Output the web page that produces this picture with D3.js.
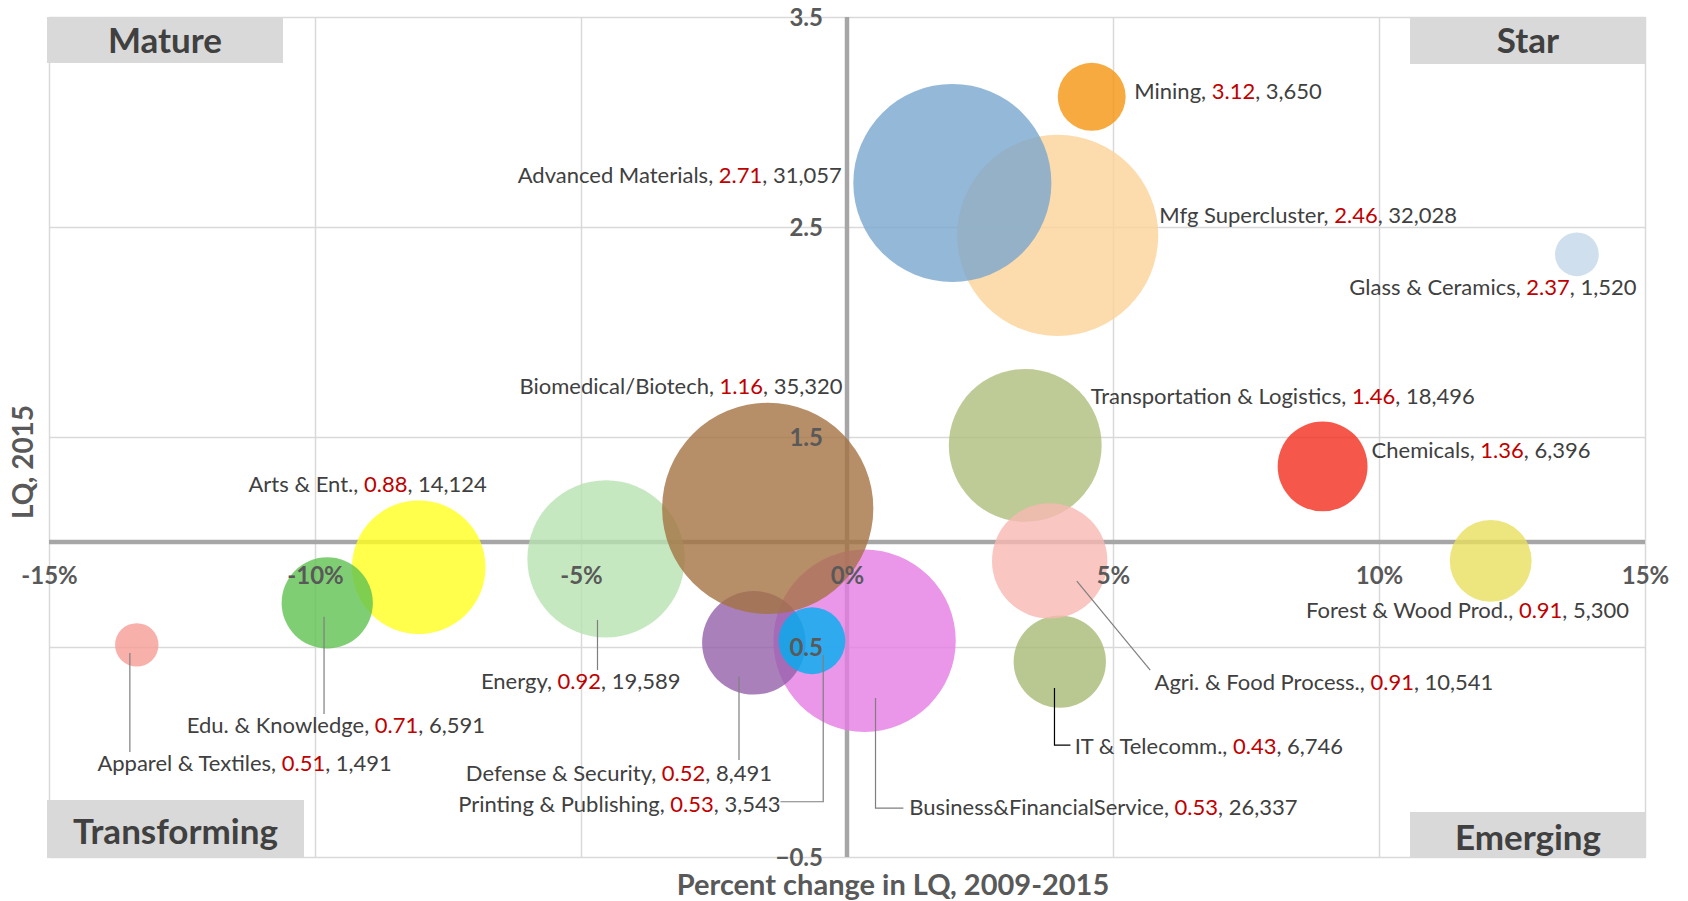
<!DOCTYPE html>
<html>
<head>
<meta charset="utf-8">
<script src="https://cdn.jsdelivr.net/npm/d3@7"></script>
<style>
  body { margin: 0; background: #fff; }
  svg { display: block; font-family: Lato, "Open Sans", sans-serif; }
</style>
</head>
<body>
<svg id="chart"></svg>
<script>
const W = 1688, H = 901;

// data, in drawing order (bottom -> top)
const clusters = ["Mfg Supercluster", "Advanced Materials", "Mining", "Glass & Ceramics",
  "Transportation & Logistics", "IT & Telecomm.", "Agri. & Food Process.", "Chemicals",
  "Forest & Wood Prod.", "Business&FinancialService", "Defense & Security", "Energy",
  "Biomedical/Biotech", "Printing & Publishing", "Arts & Ent.", "Edu. & Knowledge",
  "Apparel & Textiles"];
const pctChange = [3.96, 1.98, 4.6, 13.72, 3.35, 4.0, 3.81, 8.94, 12.1, 0.33, -1.75, -4.53,
  -1.49, -0.66, -8.05, -9.77, -13.35];
const lq2015 = [2.46, 2.71, 3.12, 2.37, 1.46, 0.43, 0.91, 1.36, 0.91, 0.53, 0.52, 0.92,
  1.16, 0.53, 0.88, 0.71, 0.51];
const employment = [32028, 31057, 3650, 1520, 18496, 6746, 10541, 6396, 5300, 26337, 8491,
  19589, 35320, 3543, 14124, 6591, 1491];
const colors = ["#FBD297", "#79A6CE", "#F59510", "#C4D7E9", "#AEBE7C", "#A8BA76", "#F7B8B3",
  "#F32E1D", "#E9DF5D", "#E57CE3", "#9560AA", "#B8E2B0", "#A47242", "#00AFF0", "#FFFF1F",
  "#60C251", "#F69C95"];

const xTicks = [-15, -10, -5, 0, 5, 10, 15];
const yTicks = [-0.5, 0.5, 1.5, 2.5, 3.5];
const quadrants = ["Mature", "Star", "Transforming", "Emerging"];

// label anchor in data units: [pct, LQ, text-anchor]
const labelAt = [
  [5.87, 2.557, "start"], [-0.10, 2.744, "end"], [5.40, 3.144, "start"], [14.84, 2.214, "end"],
  [4.58, 1.692, "start"], [4.28, 0.025, "start"], [5.78, 0.330, "start"], [9.86, 1.438, "start"],
  [14.70, 0.676, "end"], [1.17, -0.263, "start"], [-1.41, -0.10, "end"], [-3.13, 0.338, "end"],
  [-0.085, 1.743, "end"], [-1.25, -0.248, "end"], [-11.25, 1.275, "start"], [-12.41, 0.129, "start"],
  [-14.09, -0.052, "start"]
];
// leader lines in data units
const leaders = [
  { pts: [[-13.48, 0.471], [-13.48, 0.0]], c: "#7f7f7f" },
  { pts: [[-9.83, 0.644], [-9.83, 0.181]], c: "#7f7f7f" },
  { pts: [[-4.69, 0.629], [-4.69, 0.390]], c: "#7f7f7f" },
  { pts: [[-2.03, 0.359], [-2.03, -0.038]], c: "#7f7f7f" },
  { pts: [[-0.447, 0.462], [-0.447, -0.237], [-1.25, -0.237]], c: "#7f7f7f" },
  { pts: [[0.536, 0.257], [0.536, -0.267], [1.06, -0.267]], c: "#7f7f7f" },
  { pts: [[3.90, 0.305], [3.90, 0.033], [4.20, 0.033]], c: "#000000" },
  { pts: [[4.32, 0.814], [5.70, 0.390]], c: "#7f7f7f" }
];

const x = d3.scaleLinear().domain([-15, 15]).range([49, 1645]);
const y = d3.scaleLinear().domain([-0.5, 3.5]).range([857, 17]);
const r = d3.scaleSqrt().domain([0, 35320]).range([0, 105.6]);
const fmt = d3.format(",");

const svg = d3.select("#chart").attr("width", W).attr("height", H);

// gridlines
svg.append("g")
  .attr("transform", `translate(0,${y(-0.5)})`)
  .call(d3.axisBottom(x).tickValues(xTicks).tickSize(-(y(-0.5) - y(3.5))).tickFormat(""))
  .call(g => g.select(".domain").remove())
  .call(g => g.selectAll("line").attr("stroke", "#d9d9d9").attr("stroke-width", 1.5));
svg.append("g")
  .attr("transform", `translate(${x(-15)},0)`)
  .call(d3.axisLeft(y).tickValues(yTicks).tickSize(-(x(15) - x(-15))).tickFormat(""))
  .call(g => g.select(".domain").remove())
  .call(g => g.selectAll("line").attr("stroke", "#d9d9d9").attr("stroke-width", 1.5));

// main axis lines
svg.append("line").attr("x1", x(0)).attr("x2", x(0)).attr("y1", y(3.5)).attr("y2", y(-0.5))
  .attr("stroke", "#a6a6a6").attr("stroke-width", 4.5);
svg.append("line").attr("x1", x(-15)).attr("x2", x(15)).attr("y1", y(1)).attr("y2", y(1))
  .attr("stroke", "#a6a6a6").attr("stroke-width", 4.5);

// quadrant boxes
const qBox = [
  { x: x(-15) - 2, y: y(3.5), w: 236, h: 46 },
  { x: 1410, y: y(3.5), w: 236, h: 47 },
  { x: x(-15) - 2, y: 800, w: 257, h: 58 },
  { x: 1410, y: 812, w: 236, h: 46 }
];
qBox.forEach((b, i) => {
  svg.append("rect").attr("x", b.x).attr("y", b.y).attr("width", b.w).attr("height", b.h)
    .attr("fill", "#d9d9d9");
  svg.append("text").attr("x", b.x + b.w / 2).attr("y", b.y + b.h / 2 + (i >= 2 ? 2 : 0))
    .attr("dy", "0.36em").attr("text-anchor", "middle")
    .attr("font-size", 35).attr("font-weight", "bold").attr("fill", "#404040")
    .text(quadrants[i]);
});

// bubbles
svg.append("g").selectAll("circle")
  .data(clusters)
  .join("circle")
  .attr("cx", (d, i) => x(pctChange[i]))
  .attr("cy", (d, i) => y(lq2015[i]))
  .attr("r", (d, i) => r(employment[i]))
  .attr("fill", (d, i) => colors[i])
  .attr("fill-opacity", 0.8);

// tick labels
svg.append("g")
  .attr("transform", `translate(0,${y(1)})`)
  .call(d3.axisBottom(x).tickValues(xTicks).tickSize(0).tickFormat(d => d + "%"))
  .call(g => g.select(".domain").remove())
  .call(g => g.selectAll("text").attr("y", 34).attr("dy", "0.35em")
    .attr("font-size", 24).attr("font-weight", "bold").attr("fill", "#595959")
    .attr("font-family", "Lato, sans-serif"));
svg.append("g")
  .attr("transform", `translate(${x(0)},0)`)
  .call(d3.axisLeft(y).tickValues(yTicks).tickSize(0).tickPadding(24).tickFormat(d3.format(".1f")))
  .call(g => g.select(".domain").remove())
  .call(g => g.selectAll("text").attr("dy", "0.35em")
    .attr("font-size", 24).attr("font-weight", "bold").attr("fill", "#595959")
    .attr("font-family", "Lato, sans-serif"));

// leader lines
const line = d3.line().x(p => x(p[0])).y(p => y(p[1]));
svg.append("g").selectAll("path")
  .data(leaders)
  .join("path")
  .attr("d", d => line(d.pts))
  .attr("fill", "none")
  .attr("stroke", d => d.c)
  .attr("stroke-width", 1.2);

// data labels
const lab = svg.append("g").selectAll("text")
  .data(clusters)
  .join("text")
  .attr("x", (d, i) => x(labelAt[i][0]))
  .attr("y", (d, i) => y(labelAt[i][1]))
  .attr("dy", "0.35em")
  .attr("text-anchor", (d, i) => labelAt[i][2])
  .attr("font-size", 22)
  .attr("fill", "#404040");
lab.append("tspan").text(d => d + ", ");
lab.append("tspan").attr("fill", "#c00000").text((d, i) => lq2015[i].toFixed(2));
lab.append("tspan").text((d, i) => ", " + fmt(employment[i]));

// axis titles
svg.append("text").attr("x", 893).attr("y", 885).attr("dy", "0.35em")
  .attr("text-anchor", "middle").attr("font-size", 29).attr("font-weight", "bold")
  .attr("fill", "#595959").text("Percent change in LQ, 2009-2015");
svg.append("text").attr("transform", "translate(23,462) rotate(-90)").attr("dy", "0.35em")
  .attr("text-anchor", "middle").attr("font-size", 28).attr("font-weight", "bold")
  .attr("fill", "#595959").text("LQ, 2015");
</script>
</body>
</html>
